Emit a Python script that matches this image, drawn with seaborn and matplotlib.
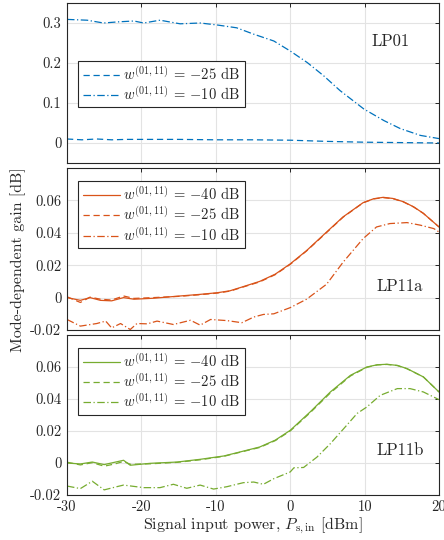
import numpy as np
import pandas as pd
import matplotlib
matplotlib.use("Agg")
import matplotlib.pyplot as plt
import seaborn as sns

# ---------------- data ----------------
# LP01
lp01_m25_x = [-30, -28, -26, -24, -22, -20, -15, -10, -5, 0, 5, 10, 15, 20]
lp01_m25_y = [0.010, 0.008, 0.010, 0.008, 0.009, 0.009, 0.009, 0.008, 0.008, 0.007, 0.004, 0.002, 0.001, 0.000]
lp01_m10_x = [-30, -27.3, -25.1, -23, -21.0, -19.7, -17.5, -14.8, -12.1, -9.8, -7.2, -4.9, -2.2, 0,
              2.3, 4.5, 6.7, 9.9, 12.6, 14.8, 17.5, 20]
lp01_m10_y = [0.309, 0.307, 0.300, 0.303, 0.305, 0.300, 0.307, 0.298, 0.300, 0.295, 0.288, 0.272, 0.255, 0.230,
              0.201, 0.168, 0.131, 0.085, 0.056, 0.036, 0.019, 0.011]

# LP11a
lp11a_m40_x = [-30, -28.2, -26.9, -25.5, -24, -22.4, -21, -18.4, -14.8, -12.1, -9.8, -8.1, -6.7, -4.1, -2,
               0, 2.2, 4.9, 7.1, 9.8, 11.2, 12.5, 13.8, 15.2, 16.6, 17.9, 20]
lp11a_m40_y = [0.0, -0.0017, 0.0, -0.0017, -0.002, 0.0, -0.001, -0.0004, 0.001, 0.002, 0.003, 0.0042, 0.0062, 0.010, 0.0145,
               0.0208, 0.029, 0.0405, 0.0498, 0.0586, 0.0610, 0.0619, 0.0612, 0.0592, 0.056, 0.052, 0.0436]
lp11a_m25_x = [-30, -28.2, -26.9, -25.5, -24, -22.4, -21, -18.4, -14.8, -12.1, -9.8, -8.1, -6.7, -4.1, -2,
               0, 2.2, 4.9, 7.1, 9.8, 11.2, 12.5, 13.8, 15.2, 16.6, 17.9, 20]
lp11a_m25_y = [0.0005, -0.003, 0.0003, -0.001, -0.0015, 0.001, -0.0005, 0.0, 0.0008, 0.0018, 0.0028, 0.004, 0.006, 0.0097, 0.0142,
               0.0205, 0.0288, 0.0402, 0.0496, 0.0585, 0.0609, 0.0617, 0.0611, 0.0591, 0.0559, 0.052, 0.0436]
lp11a_m10_x = [-30, -28.2, -26, -24.8, -24, -22.8, -21.5, -20.6, -19.2, -17.9, -15.7, -13.4, -12.1, -10.7, -8.5,
               -6.5, -4.9, -3.6, -2.2, 0, 2.2, 4.9, 7.1, 9.8, 11.6, 13.4, 15.7, 17.5, 19.3, 20]
lp11a_m10_y = [-0.0135, -0.0176, -0.016, -0.0145, -0.0187, -0.016, -0.0197, -0.016, -0.0162, -0.0145, -0.0166, -0.014, -0.017, -0.0135, -0.0142,
               -0.0155, -0.012, -0.0104, -0.010, -0.0062, -0.001, 0.0083, 0.0218, 0.0364, 0.0436, 0.0457, 0.0463, 0.0447, 0.0426, 0.0405]

# LP11b
lp11b_m40_x = [-30, -28.2, -26.6, -25, -22.4, -21.5, -18.8, -15.2, -12.1, -8.9, -5.8, -4.1, -2,
               0, 2.7, 5.4, 8.1, 10.3, 11.7, 13.0, 14.4, 15.7, 17.9, 20]
lp11b_m40_y = [0.0, -0.0006, 0.0006, -0.001, 0.0017, -0.0014, -0.0002, 0.0006, 0.0023, 0.0044, 0.008, 0.010, 0.0143,
               0.0204, 0.032, 0.0444, 0.0548, 0.060, 0.0614, 0.0617, 0.0610, 0.059, 0.0538, 0.0444]
lp11b_m25_x = [-30, -28.2, -26.6, -25, -23.5, -22.4, -21.5, -18.8, -15.2, -12.1, -8.9, -5.8, -4.1, -2,
               0, 2.7, 5.4, 8.1, 10.3, 11.7, 13.0, 14.4, 15.7, 17.9, 20]
lp11b_m25_y = [0.0005, -0.0012, 0.0002, -0.002, -0.0005, 0.001, -0.0008, -0.0005, 0.0004, 0.002, 0.0042, 0.0078, 0.0097, 0.014,
               0.020, 0.0315, 0.0438, 0.0544, 0.0598, 0.0613, 0.0616, 0.0609, 0.0589, 0.0538, 0.0444]
lp11b_m10_x = [-30, -28.2, -26.6, -25, -23.3, -22.4, -19.7, -17.5, -15.7, -13.9, -12.1, -10.3, -8.5, -6.3, -4.9,
               -3.6, -2.2, 0, 0.5, 1.8, 3.6, 5.4, 7.2, 9.0, 10.3, 12.1, 14.4, 16.1, 17.9, 20]
lp11b_m10_y = [-0.0144, -0.016, -0.0114, -0.0168, -0.0148, -0.0138, -0.0154, -0.0154, -0.0133, -0.0158, -0.0138, -0.0163, -0.0148, -0.0123, -0.0119,
               -0.0133, -0.0098, -0.0056, -0.003, -0.0028, 0.0037, 0.0121, 0.0215, 0.031, 0.035, 0.0423, 0.0465, 0.0465, 0.0444, 0.0396]

legend_m40 = r"$w^{(01,11)}$ = $-40$ dB"
legend_m25 = r"$w^{(01,11)}$ = $-25$ dB"
legend_m10 = r"$w^{(01,11)}$ = $-10$ dB"

# ---------------- style ----------------
sns.set_theme(style="white")
plt.rcParams["font.family"] = ["cmr10", "DejaVu Serif"]
plt.rcParams["mathtext.fontset"] = "cm"
plt.rcParams["axes.unicode_minus"] = False
plt.rcParams["axes.formatter.use_mathtext"] = True

blue = "#0072BD"
orange = "#D95319"
green = "#77AC30"

fig = plt.figure(figsize=(4.44, 5.40), dpi=100)
L, W = 67 / 444, 372 / 444
axes = [
    fig.add_axes([L, 1 - 163 / 540, W, 160 / 540]),
    fig.add_axes([L, 1 - 330 / 540, W, 162 / 540]),
    fig.add_axes([L, 1 - 495 / 540, W, 160 / 540]),
]

styles = {"-40": "-", "-25": (0, (5, 3)), "-10": (0, (6, 2, 1, 2))}


def draw(ax, curves, color):
    for x, y, lab, key in curves:
        df = pd.DataFrame({"x": x, "y": y})
        sns.lineplot(data=df, x="x", y="y", ax=ax, color=color, lw=0.9,
                     linestyle=styles[key], label=lab, estimator=None, sort=False)


draw(axes[0], [(lp01_m25_x, lp01_m25_y, legend_m25, "-25"),
               (lp01_m10_x, lp01_m10_y, legend_m10, "-10")], blue)
draw(axes[1], [(lp11a_m40_x, lp11a_m40_y, legend_m40, "-40"),
               (lp11a_m25_x, lp11a_m25_y, legend_m25, "-25"),
               (lp11a_m10_x, lp11a_m10_y, legend_m10, "-10")], orange)
draw(axes[2], [(lp11b_m40_x, lp11b_m40_y, legend_m40, "-40"),
               (lp11b_m25_x, lp11b_m25_y, legend_m25, "-25"),
               (lp11b_m10_x, lp11b_m10_y, legend_m10, "-10")], green)

xticks = [-30, -20, -10, 0, 10, 20]
for i, ax in enumerate(axes):
    ax.set_xlim(-30, 20)
    ax.set_xticks(xticks)
    if i == 0:
        ax.set_ylim(-0.05, 0.35)
        ax.set_yticks([0, 0.1, 0.2, 0.3])
        ax.set_yticklabels(["0", "0.1", "0.2", "0.3"])
    else:
        ax.set_ylim(-0.02, 0.08)
        ax.set_yticks([-0.02, 0, 0.02, 0.04, 0.06])
        ax.set_yticklabels(["-0.02", "0", "0.02", "0.04", "0.06"])
    if i == 2:
        ax.set_xticklabels([str(t) for t in xticks])
    else:
        ax.set_xticklabels([])
    ax.grid(True, color="#e3e3e3", lw=0.8)
    ax.set_axisbelow(True)
    ax.tick_params(direction="in", length=3, width=0.7, top=True, right=True,
                   labelsize=10.5, colors="#262626", pad=4)
    for s in ax.spines.values():
        s.set_color("#262626")
        s.set_linewidth(0.8)
    ax.set_xlabel("")
    ax.set_ylabel("")

leg_kw = dict(loc="upper left", fontsize=10.5, frameon=True, fancybox=False,
              edgecolor="#262626", framealpha=1, handlelength=2.6,
              borderpad=0.3, labelspacing=0.15, handletextpad=0.2, borderaxespad=0)
lg = axes[0].legend(bbox_to_anchor=(0.03, 0.64), **leg_kw)
lg.get_frame().set_linewidth(0.8)
for ax in axes[1:]:
    lg = ax.legend(bbox_to_anchor=(0.03, 0.92), **leg_kw)
    lg.get_frame().set_linewidth(0.8)

axes[0].text(0.87, 0.76, "LP01", transform=axes[0].transAxes, fontsize=12,
             ha="center", va="center", color="#262626")
axes[1].text(0.895, 0.27, "LP11a", transform=axes[1].transAxes, fontsize=12,
             ha="center", va="center", color="#262626")
axes[2].text(0.895, 0.28, "LP11b", transform=axes[2].transAxes, fontsize=12,
             ha="center", va="center", color="#262626")

axes[2].set_xlabel(r"Signal input power, $P_{\mathrm{s,in}}$ [dBm]", fontsize=11.5,
                   color="#262626", labelpad=1)
fig.text(0.04, 0.52, "Mode-dependent gain [dB]", rotation=90, ha="center",
         va="center", fontsize=11.5, color="#262626")

fig.savefig("out.png", dpi=100)
